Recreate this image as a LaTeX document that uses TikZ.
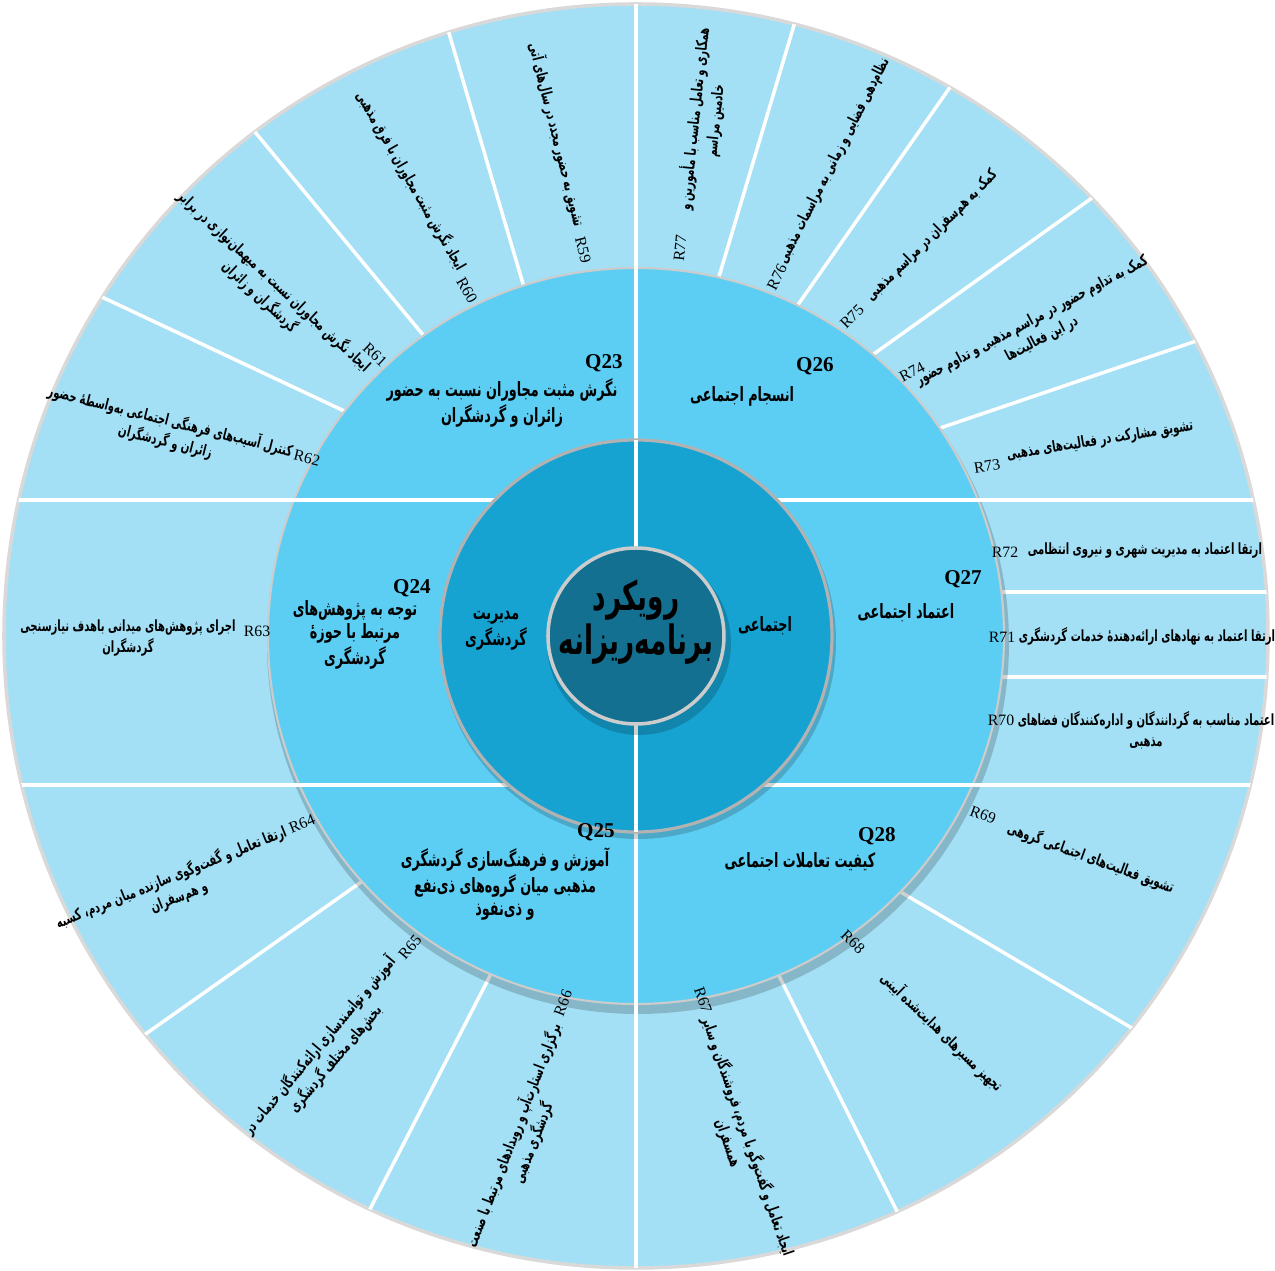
\documentclass[tikz,border=0pt]{standalone}
\usepackage{fontspec}
\setmainfont{Liberation Serif}
\newfontfamily\farsi[Script=Arabic, FakeStretch=0.65]{DejaVu Sans}
\TeXXeTstate=1
\usepackage{tikz}
\newcommand{\fa}[1]{\beginR#1\endR}
\newcommand{\zw}{^^^^200c}
\newcommand{\outerr}{6.32}
\newcommand{\midr}{3.68}
\newcommand{\innerr}{1.96}
\newcommand{\corer}{0.88}
\definecolor{outerblue}{HTML}{A3E0F5}
\definecolor{midblue}{HTML}{5DCEF3}
\definecolor{innerblue}{HTML}{17A3D2}
\definecolor{coreblue}{HTML}{137091}
\tikzstyle{divider}=[white, line width=1pt]
\tikzstyle{shade}=[black, opacity=0.18]
\tikzstyle{rtext}=[font={\fontsize{4.4}{5.9}\farsi\bfseries}, align=center, inner sep=0]
\tikzstyle{rnum}=[font={\fontsize{4.5}{5}\selectfont}, inner sep=0]
\tikzstyle{qtext}=[font={\fontsize{5.6}{6.4}\farsi\bfseries}, align=center, inner sep=0]
\tikzstyle{qnum}=[font={\fontsize{6}{7}\selectfont\bfseries}, inner sep=0]
\begin{document}
\begin{tikzpicture}
    \useasboundingbox (-6.36,-6.35) rectangle (6.39,6.36);
    % rings
    \fill[outerblue] (0,0) circle (\outerr);
    \draw[black!15, line width=1pt] (0,0) circle (\outerr);
    \begin{scope}
        \clip (0,0) circle (\outerr);
        \foreach \a/\b in {107.9/107.2, 124.9/127.2, 141.3/147.9, 77.3/75.4, 64.7/60.0,
                           51.1/43.5, 35.7/27.4, -45.2/-38.0, -67.5/-65.5, -137.6/-141.1, -112.9/-115.0}
            \draw[divider] (\a:3.4) -- (\b:6.6);
        \draw[divider] (3,0.44) -- (6.6,0.44);
        \draw[divider] (3,-0.41) -- (6.6,-0.41);
        \fill[shade] (0.02,-0.07) circle (\midr+0.03);
        \fill[midblue] (0,0) circle (\midr);
        \draw[black!20, line width=0.6pt] (0,0) circle (\midr);
        \draw[divider] (-6.6,1.36) -- (6.6,1.36);
        \draw[divider] (-6.6,-1.49) -- (6.6,-1.49);
        \draw[divider] (0,6.6) -- (0,-6.6);
    \end{scope}
    \fill[shade] (0.02,-0.05) circle (\innerr+0.02);
    \fill[innerblue] (0,0) circle (\innerr);
    \draw[black!30, line width=0.9pt] (0,0) circle (\innerr);
    \draw[divider] (0,\innerr) -- (0,-\innerr);
    \fill[shade] (0.03,-0.07) circle (\corer+0.04);
    \fill[coreblue] (0,0) circle (\corer);
    \draw[black!20, line width=1pt] (0,0) circle (\corer);
    % centre and dimensions
    \node[font={\fontsize{11.5}{11.5}\farsi\bfseries}, align=center, inner sep=0] (core) at (0,0.14) {\fa{رویکرد}\\\fa{برنامه\zw ریزانه}};
    \node[qtext] (dim1) at (-1.40,0.05) {\fa{مدیریت}\\\fa{گردشگری}};
    \node[qtext] (dim2) at (1.29,0.10) {\fa{اجتماعی}};
    % Q sectors
    \node[qnum] (q23num) at (-0.32,2.73) {Q23};
    \node[qtext] (q23) at (-1.34,2.33) {\fa{نگرش مثبت مجاوران نسبت به حضور}\\\fa{زائران و گردشگران}};
    \node[qnum] (q24num) at (-2.24,0.48) {Q24};
    \node[qtext] (q24) at (-2.81,0.01) {\fa{توجه به پژوهش\zw های}\\\fa{مرتبط با حوزهٔ}\\\fa{گردشگری}};
    \node[qnum] (q25num) at (-0.40,-1.96) {Q25};
    \node[qtext] (q25) at (-1.31,-2.48) {\fa{آموزش و فرهنگ\zw سازی گردشگری}\\\fa{مذهبی میان گروه\zw های ذی\zw نفع}\\\fa{و ذی\zw نفوذ}};
    \node[qnum] (q26num) at (1.79,2.70) {Q26};
    \node[qtext] (q26) at (1.06,2.40) {\fa{انسجام اجتماعی}};
    \node[qnum] (q27num) at (3.27,0.57) {Q27};
    \node[qtext] (q27) at (2.70,0.23) {\fa{اعتماد اجتماعی}};
    \node[qnum] (q28num) at (2.41,-2.00) {Q28};
    \node[qtext] (q28) at (1.64,-2.26) {\fa{کیفیت تعاملات اجتماعی}};
    % R items
    \node[rnum, rotate=-76] (r59num) at (-0.53,3.86) {R59};
    \node[rtext, rotate=-76] (r59) at (-0.79,5.01) {\fa{تشویق به حضور مجدد در سال\zw های آتی}};
    \node[rnum, rotate=-60] (r60num) at (-1.69,3.46) {R60};
    \node[rtext, rotate=-60] (r60) at (-2.25,4.55) {\fa{ایجاد نگرش مثبت مجاوران با فرق مذهبی}};
    \node[rnum, rotate=-43] (r61num) at (-2.61,2.81) {R61};
    \node[rtext, rotate=-43] (r61) at (-3.69,3.47) {\fa{ایجاد نگرش مجاوران نسبت به میهمان\zw نوازی در برابر}\\\fa{گردشگران و زائران}};
    \node[rnum, rotate=-14] (r62num) at (-3.29,1.78) {R62};
    \node[rtext, rotate=-14] (r62) at (-4.68,2.05) {\fa{کنترل آسیب\zw های فرهنگی اجتماعی به\zw واسطهٔ حضور}\\\fa{زائران و گردشگران}};
    \node[rnum] (r63num) at (-3.79,0.05) {R63};
    \node[rtext] (r63) at (-5.08,-0.02) {\fa{اجرای پژوهش\zw های میدانی باهدف نیازسنجی}\\\fa{گردشگران}};
    \node[rnum, rotate=22] (r64num) at (-3.34,-1.88) {R64};
    \node[rtext, rotate=22] (r64) at (-4.61,-2.51) {\fa{ارتقا تعامل و گفت\zw وگوی سازنده میان مردم، کسبه}\\\fa{و هم\zw سفران}};
    \node[rnum, rotate=50] (r65num) at (-2.26,-3.11) {R65};
    \node[rtext, rotate=50] (r65) at (-3.09,-4.16) {\fa{آموزش و توانمندسازی ارائه\zw کنندگان خدمات در}\\\fa{بخش\zw های مختلف گردشگری}};
    \node[rnum, rotate=69] (r66num) at (-0.73,-3.67) {R66};
    \node[rtext, rotate=69] (r66) at (-1.13,-5.03) {\fa{برگزاری استارت\zw آپ و رویدادهای مرتبط با صنعت}\\\fa{گردشگری مذهبی}};
    \node[rnum, rotate=-71] (r67num) at (0.67,-3.64) {R67};
    \node[rtext, rotate=-71] (r67) at (1.02,-5.04) {\fa{ایجاد تعامل و گفت\zw وگو با مردم، فروشندگان و سایر}\\\fa{همسفران}};
    \node[rnum, rotate=-44] (r68num) at (2.17,-3.06) {R68};
    \node[rtext, rotate=-44] (r68) at (3.06,-3.96) {\fa{تجهیز مسیرهای هدایت\zw شده آیینی}};
    \node[rnum, rotate=-20] (r69num) at (3.47,-1.79) {R69};
    \node[rtext, rotate=-20] (r69) at (4.55,-2.22) {\fa{تشویق فعالیت\zw های اجتماعی گروهی}};
    \node[rnum] (r70num) at (3.65,-0.84) {R70};
    \node[rtext] (r70) at (5.10,-0.94) {\fa{اعتماد مناسب به گردانندگان و اداره\zw کنندگان فضاهای}\\\fa{مذهبی}};
    \node[rnum] (r71num) at (3.66,-0.01) {R71};
    \node[rtext] (r71) at (5.11,0.00) {\fa{ارتقا اعتماد به نهادهای ارائه\zw دهندهٔ خدمات گردشگری}};
    \node[rnum] (r72num) at (3.69,0.84) {R72};
    \node[rtext] (r72) at (5.09,0.85) {\fa{ارتقا اعتماد به مدیریت شهری و نیروی انتظامی}};
    \node[rnum, rotate=9] (r73num) at (3.51,1.70) {R73};
    \node[rtext, rotate=9] (r73) at (4.64,1.95) {\fa{تشویق مشارکت در فعالیت\zw های مذهبی}};
    \node[rnum, rotate=28] (r74num) at (2.76,2.64) {R74};
    \node[rtext, rotate=28] (r74) at (4.01,3.06) {\fa{کمک به تداوم حضور در مراسم مذهبی و تداوم حضور}\\\fa{در این فعالیت\zw ها}};
    \node[rnum, rotate=45] (r75num) at (2.16,3.19) {R75};
    \node[rtext, rotate=45] (r75) at (2.96,4.00) {\fa{کمک به هم\zw سفران در مراسم مذهبی}};
    \node[rnum, rotate=63] (r76num) at (1.41,3.59) {R76};
    \node[rtext, rotate=63] (r76) at (1.98,4.75) {\fa{نظام\zw دهی فضایی و زمانی به مراسمات مذهبی}};
    \node[rnum, rotate=84] (r77num) at (0.44,3.88) {R77};
    \node[rtext, rotate=84] (r77) at (0.68,5.16) {\fa{همکاری و تعامل مناسب با مأمورین و}\\\fa{خادمین مراسم}};
\end{tikzpicture}
\end{document}
